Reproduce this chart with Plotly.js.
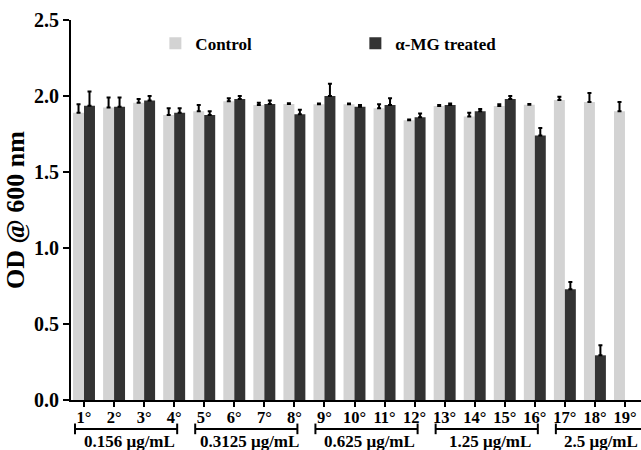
<!DOCTYPE html>
<html>
<head>
<meta charset="utf-8">
<script src="https://cdn.plot.ly/plotly-3.0.1.min.js"></script>
<style>html,body{margin:0;padding:0;background:#fff;}</style>
</head>
<body>
<div id="chart" style="width:641px;height:450px;"></div>
<script>
const categories = ["1°","2°","3°","4°","5°","6°","7°","8°","9°","10°","11°","12°","13°","14°","15°","16°","17°","18°","19°"];
const controlValues = [1.89,1.925,1.956,1.875,1.90,1.965,1.94,1.947,1.945,1.945,1.92,1.84,1.934,1.865,1.934,1.943,1.974,1.96,1.90];
const controlErrors = [0.055,0.065,0.025,0.045,0.04,0.02,0.016,0.005,0.006,0.006,0.025,0.006,0.006,0.025,0.011,0.004,0.021,0.06,0.06];
const treatedValues = [1.936,1.93,1.97,1.89,1.875,1.98,1.947,1.88,2.0,1.93,1.94,1.86,1.94,1.90,1.98,1.74,0.728,0.294,null];
const treatedErrors = [0.094,0.06,0.03,0.03,0.025,0.02,0.023,0.03,0.08,0.01,0.045,0.025,0.01,0.015,0.02,0.05,0.048,0.066,0];
const yTickValues = [0, 0.5, 1.0, 1.5, 2.0, 2.5];
const groupLabels = ["0.156 μg/mL","0.3125 μg/mL","0.625 μg/mL","1.25 μg/mL","2.5 μg/mL"];
const groupSizes = [4,4,4,4,3];

const serif = "Liberation Serif, Times New Roman, serif";

const traces = [
  {type:"bar", name:"<b>Control</b>", x:categories, y:controlValues,
   marker:{color:"#d3d3d3"},
   error_y:{type:"data", symmetric:false, array:controlErrors, arrayminus:controlErrors.map(()=>0), color:"#000", thickness:2, width:2}},
  {type:"bar", name:"<b>α-MG treated</b>", x:categories, y:treatedValues,
   marker:{color:"#333333"},
   error_y:{type:"data", symmetric:false, array:treatedErrors, arrayminus:treatedErrors.map(()=>0), color:"#000", thickness:2, width:2}}
];

const shapes = [];
const annotations = [];
let start = 0;
groupSizes.forEach((n, gi) => {
  const last = gi === groupSizes.length - 1;
  const x0 = start - 0.3;
  const x1 = start + n - 1 + 0.1 + (last ? 0.45 : 0);
  const yb = -0.076;
  shapes.push({type:"line", xref:"x", yref:"paper", x0:x0, x1:x1, y0:yb, y1:yb, line:{color:"#000", width:2}});
  shapes.push({type:"line", xref:"x", yref:"paper", x0:x0, x1:x0, y0:yb-0.014, y1:yb+0.014, line:{color:"#000", width:2}});
  if (!last)
    shapes.push({type:"line", xref:"x", yref:"paper", x0:x1, x1:x1, y0:yb-0.014, y1:yb+0.014, line:{color:"#000", width:2}});
  annotations.push({xref:"x", yref:"paper", x:(2*start + n - 1)/2 + (last ? 0.2 : 0), y:-0.11,
    text:"<b>"+groupLabels[gi]+"</b>", showarrow:false, yanchor:"middle",
    font:{family:serif, size:17, color:"#000"}});
  start += n;
});

const layout = {
  width:641, height:450,
  margin:{l:71, r:0, t:20, b:50, autoexpand:false},
  paper_bgcolor:"#fff", plot_bgcolor:"#fff",
  barmode:"group", bargap:0.27, bargroupgap:0,
  font:{family:serif, color:"#000"},
  showlegend:true,
  legend:{orientation:"h", x:0.148, y:0.985, yanchor:"top", xanchor:"left",
    entrywidth:155, entrywidthmode:"pixels",
    font:{family:serif, size:17, color:"#000"}, bgcolor:"rgba(0,0,0,0)"},
  xaxis:{type:"category", range:[-0.433, 18.533], automargin:false, showline:true, linecolor:"#000", linewidth:2,
    ticks:"outside", ticklen:5, tickwidth:2, tickcolor:"#000", showgrid:false, zeroline:false,
    tickvals:categories, ticktext:categories.map(c => "<b>"+c+"</b>"), ticklabelstandoff:-4,
    tickfont:{family:serif, size:16.5, color:"#000"}, fixedrange:true},
  yaxis:{range:[0,2.5], automargin:true, showline:true, linecolor:"#000", linewidth:2,
    ticks:"outside", ticklen:6, tickwidth:2, tickcolor:"#000", showgrid:false, zeroline:false,
    tickvals:yTickValues, ticktext:yTickValues.map(v => "<b>"+v.toFixed(1)+"</b>"),
    tickfont:{family:serif, size:20, color:"#000"},
    title:{text:"<b>OD @ 600 nm</b>", font:{family:serif, size:26, color:"#000"}, standoff:2}},
  shapes:shapes,
  annotations:annotations
};

Plotly.newPlot("chart", traces, layout, {displayModeBar:false, staticPlot:true});
</script>
</body>
</html>
